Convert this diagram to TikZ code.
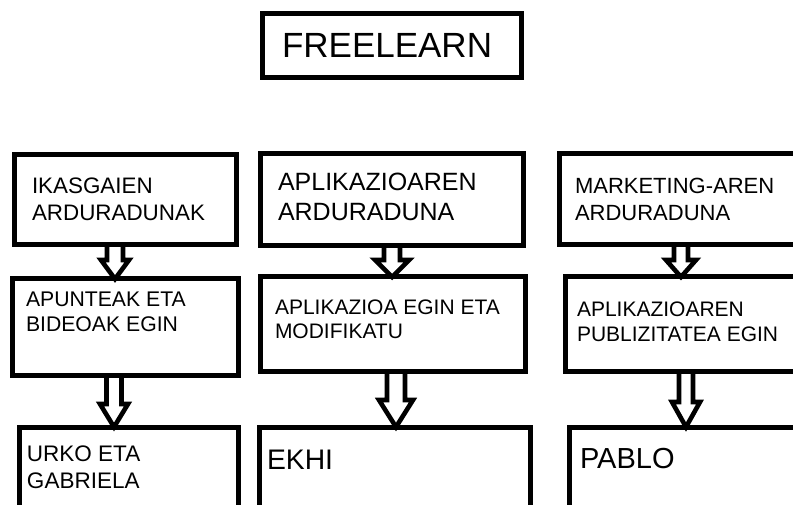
\documentclass[tikz,border=0pt]{standalone}
\usepackage{fontspec}
\setmainfont{Liberation Sans}
\usetikzlibrary{calc}
\tikzset{
  box/.style={draw, line width=5pt, rectangle, inner sep=0pt, outer sep=0pt, anchor=north west},
  txt/.style={anchor=north west, inner sep=0pt, outer sep=0pt, align=left},
  barrow/.style={draw, line width=4.6pt, line join=miter},
}
% #1 from node, #2 to node, #3 x, #4 shaft half width, #5 head half width, #6 head length
\newcommand\blockarrow[6]{%
  \coordinate (ax) at (#3,0);
  \coordinate (as) at (ax |- #1.south);
  \coordinate (at) at (ax |- #2.north);
  \draw[barrow] ($(as)+(-#4,0)$) -- ($(at)+(-#4,-#6)$) -- ($(at)+(-#5,-#6)$) -- (at)
    -- ($(at)+(#5,-#6)$) -- ($(at)+(#4,-#6)$) -- ($(as)+(#4,0)$);
}
\begin{document}
\begin{tikzpicture}[x=1pt, y=-1pt]
\clip (0,0) rectangle (793,505);
\fill[white] (0,0) rectangle (793,505);

% title
\node[box, minimum width=259pt, minimum height=64pt] (t) at (262,14) {};
\node[txt, font=\fontsize{35}{42}\selectfont] (tt) at (282,33) {FREELEARN};

% left column
\node[box, minimum width=222pt, minimum height=90pt] (l1) at (14,155) {};
\node[box, minimum width=226pt, minimum height=96pt] (l2) at (12,279) {};
\node[box, minimum width=219pt, minimum height=100pt] (l3) at (19,427) {};
\node[txt, font=\fontsize{22.4}{27}\selectfont] (l1t) at (32,178) {IKASGAIEN\\ARDURADUNAK};
\node[txt, font=\fontsize{21.2}{25}\selectfont] (l2t) at (26,292) {APUNTEAK ETA\\BIDEOAK EGIN};
\node[txt, font=\fontsize{22.5}{27}\selectfont] (l3t) at (27,446) {URKO ETA\\GABRIELA};

% middle column
\node[box, minimum width=263pt, minimum height=92pt] (m1) at (260,154) {};
\node[box, minimum width=265pt, minimum height=94pt] (m2) at (260,277) {};
\node[box, minimum width=271pt, minimum height=100pt] (m3) at (259,427) {};
\node[txt, font=\fontsize{25}{30}\selectfont] (m1t) at (278,173) {APLIKAZIOAREN\\ARDURADUNA};
\node[txt, font=\fontsize{21}{24}\selectfont] (m2t) at (275,300) {APLIKAZIOA EGIN ETA\\MODIFIKATU};
\node[txt, font=\fontsize{28.3}{34}\selectfont] (m3t) at (267,450) {EKHI};

% right column
\node[box, minimum width=260pt, minimum height=91pt] (r1) at (559,154) {};
\node[box, minimum width=260pt, minimum height=94pt] (r2) at (565,277) {};
\node[box, minimum width=260pt, minimum height=100pt] (r3) at (569,427) {};
\node[txt, font=\fontsize{22}{27}\selectfont] (r1t) at (575,178) {MARKETING-AREN\\ARDURADUNA};
\node[txt, font=\fontsize{21}{25}\selectfont] (r2t) at (577,302) {APLIKAZIOAREN\\PUBLIZITATEA EGIN};
\node[txt, font=\fontsize{29}{35}\selectfont] (r3t) at (580,448) {PABLO};

% block arrows
\blockarrow{l1}{l2}{115}{8}{14}{19}
\blockarrow{l2}{l3}{114}{7.5}{14}{23}
\blockarrow{m1}{m2}{392}{8}{17}{17}
\blockarrow{m2}{m3}{396}{9}{17}{27}
\blockarrow{r1}{r2}{681}{7}{15}{17}
\blockarrow{r2}{r3}{686}{7}{14}{25}
\end{tikzpicture}
\end{document}
